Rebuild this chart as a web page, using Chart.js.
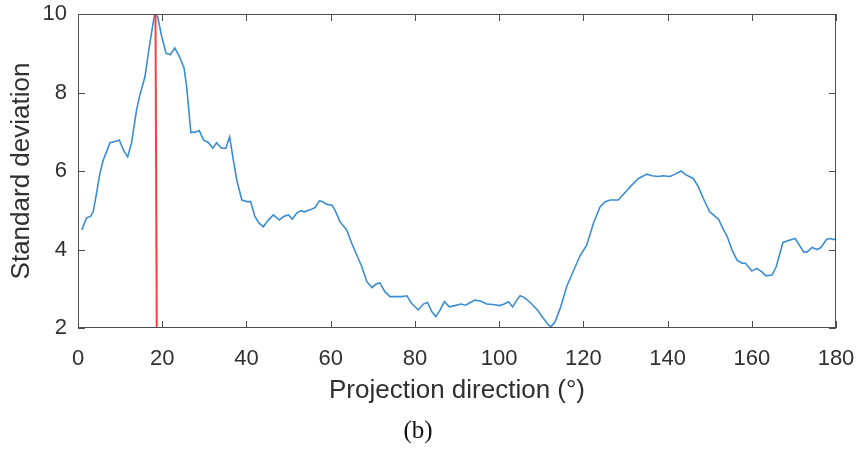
<!DOCTYPE html>
<html>
<head>
    <title>Standard deviation</title>
    <meta http-equiv="content-type" content="text/html;charset=UTF-8">
    <script src="https://cdn.jsdelivr.net/npm/chart.js"></script>
    <style>
        html, body {
            margin: 0;
            padding: 0;
            background: white;
        }

        .chart-box {
            width: 860px;
            height: 449px;
        }
    </style>
</head>
<body>
<div class="chart-box">
    <canvas id="sdChart" width="860" height="449"></canvas>
</div>
<script>
    // projection angle (degrees) and the standard deviation at that angle
    const angles = [
        0.9, 2.0, 3.0, 3.6, 4.4, 5.2, 6.0, 7.0, 7.6, 8.8, 9.8, 10.8, 11.8, 12.7, 13.9, 14.7, 15.9, 16.7, 17.7, 18.2,
        18.9, 19.9, 20.9, 21.9, 23.0, 24.1, 25.2, 25.8, 26.8, 27.8, 28.8, 29.8, 31.0, 32.0, 32.9, 34.1, 35.1, 36.0, 36.9, 37.7,
        38.9, 40.1, 41.0, 42.0, 43.0, 44.0, 45.2, 46.4, 47.8, 48.8, 50.0, 50.9, 51.9, 52.9, 53.8, 55.1, 56.3, 57.3, 58.0, 59.1,
        60.3, 61.0, 62.2, 63.8, 65.0, 66.2, 67.4, 68.6, 69.8, 70.8, 71.7, 72.9, 74.1, 75.7, 76.9, 78.1, 79.2, 80.8, 82.0, 83.0,
        84.0, 85.0, 86.0, 87.0, 88.2, 89.5, 90.9, 92.1, 93.1, 94.3, 95.5, 97.1, 98.6, 100.1, 101.2, 102.2, 103.2, 104.2, 105.0, 105.9,
        107.4, 109.1, 110.5, 111.7, 112.3, 113.3, 114.5, 116.1, 117.6, 119.2, 120.8, 122.4, 124.0, 125.2, 126.4, 128.3, 129.9, 131.5, 133.1, 135.1,
        136.3, 137.8, 139.0, 140.6, 141.8, 143.2, 144.4, 146.1, 147.3, 148.5, 150.0, 150.9, 152.1, 153.3, 154.1, 155.3, 156.5, 157.7, 158.5, 160.0,
        161.2, 162.4, 163.4, 164.8, 165.8, 167.4, 168.7, 170.3, 171.3, 172.3, 173.2, 174.3, 175.5, 176.4, 177.8, 178.8, 179.4, 180.0
    ];
    const stdDev = [
        4.50, 4.80, 4.85, 4.96, 5.43, 5.94, 6.28, 6.55, 6.72, 6.75, 6.79, 6.53, 6.36, 6.71, 7.55, 7.94, 8.40, 9.00, 9.68, 10.0,
        9.93, 9.42, 9.00, 8.96, 9.13, 8.91, 8.62, 8.15, 6.98, 6.99, 7.03, 6.79, 6.72, 6.58, 6.72, 6.58, 6.58, 6.87, 6.28, 5.77,
        5.26, 5.22, 5.22, 4.84, 4.67, 4.58, 4.75, 4.88, 4.75, 4.84, 4.88, 4.77, 4.92, 4.99, 4.96, 5.01, 5.07, 5.24, 5.22, 5.15,
        5.13, 5.01, 4.71, 4.50, 4.16, 3.86, 3.56, 3.18, 3.03, 3.12, 3.15, 2.92, 2.80, 2.80, 2.80, 2.82, 2.63, 2.46, 2.61, 2.65,
        2.42, 2.29, 2.46, 2.67, 2.54, 2.57, 2.61, 2.58, 2.65, 2.71, 2.69, 2.61, 2.60, 2.57, 2.61, 2.67, 2.54, 2.71, 2.82, 2.78,
        2.65, 2.46, 2.25, 2.08, 2.03, 2.16, 2.50, 3.07, 3.44, 3.84, 4.11, 4.67, 5.09, 5.22, 5.26, 5.26, 5.45, 5.64, 5.81, 5.92,
        5.88, 5.86, 5.88, 5.86, 5.92, 6.00, 5.90, 5.81, 5.60, 5.30, 4.96, 4.88, 4.77, 4.50, 4.35, 3.99, 3.73, 3.65, 3.65, 3.45,
        3.52, 3.43, 3.33, 3.35, 3.56, 4.18, 4.23, 4.28, 4.11, 3.94, 3.94, 4.05, 4.00, 4.05, 4.26, 4.28, 4.25, 4.28
    ];

    // red marker at the angle of maximum deviation
    const peakLineX = [18.4, 18.7];
    const peakLineY = [10, 2];

    const xTicks = [0, 20, 40, 60, 80, 100, 120, 140, 160, 180];
    const yTicks = [2, 4, 6, 8, 10];

    const axisColor = '#4d4d4d';
    const textColor = '#303030';

    // box around the plot plus inward tick marks on all four sides
    const boxTicks = {
        id: 'boxTicks',
        afterDraw(chart) {
            const ctx = chart.ctx;
            const area = chart.chartArea;
            const xs = chart.scales.x;
            const ys = chart.scales.y;
            const len = 7;
            ctx.save();
            ctx.strokeStyle = axisColor;
            ctx.lineWidth = 1;
            ctx.strokeRect(area.left + 0.5, area.top + 0.5, area.right - area.left - 1, area.bottom - area.top - 1);
            ctx.beginPath();
            xTicks.forEach(v => {
                const px = Math.round(xs.getPixelForValue(v)) + 0.5;
                ctx.moveTo(px, area.bottom);
                ctx.lineTo(px, area.bottom - len);
                ctx.moveTo(px, area.top);
                ctx.lineTo(px, area.top + len);
            });
            yTicks.forEach(v => {
                const py = Math.round(ys.getPixelForValue(v)) + 0.5;
                ctx.moveTo(area.left, py);
                ctx.lineTo(area.left + len, py);
                ctx.moveTo(area.right, py);
                ctx.lineTo(area.right - len, py);
            });
            ctx.stroke();
            ctx.restore();
        }
    };

    // keep the plot box fixed: drop the extra room Chart.js reserves for edge labels
    function noEdgePadding(scale) {
        scale.paddingTop = 0;
        scale.paddingBottom = 0;
        scale.paddingLeft = 0;
        scale.paddingRight = 0;
    }

    let ctx = document.getElementById('sdChart').getContext('2d');
    new Chart(ctx, {
        type: 'line',
        data: {
            datasets: [{
                data: peakLineX.map((x, i) => ({x: x, y: peakLineY[i]})),
                borderColor: '#ff3b3b',
                borderWidth: 2,
                pointRadius: 0,
                order: 0
            }, {
                data: angles.map((x, i) => ({x: x, y: stdDev[i]})),
                borderColor: '#3a8dd3',
                borderWidth: 1.6,
                pointRadius: 0,
                tension: 0,
                order: 1
            }]
        },
        options: {
            responsive: false,
            animation: false,
            layout: {
                padding: {left: 0, right: 24, top: 14, bottom: 0}
            },
            plugins: {
                legend: {display: false},
                tooltip: {enabled: false},
                title: {
                    display: true,
                    position: 'bottom',
                    text: '(b)',
                    color: '#111111',
                    font: {family: 'Liberation Serif', size: 25, weight: 'normal', lineHeight: 1.2},
                    padding: {top: 0, bottom: 3}
                }
            },
            scales: {
                x: {
                    type: 'linear',
                    min: 0,
                    max: 180,
                    afterBuildTicks: scale => {
                        scale.ticks = xTicks.map(v => ({value: v}));
                    },
                    afterFit: scale => {
                        scale.height = 88;
                        noEdgePadding(scale);
                    },
                    grid: {display: false, drawTicks: false},
                    border: {display: false},
                    ticks: {
                        color: textColor,
                        padding: 18,
                        maxRotation: 0,
                        font: {family: 'Liberation Sans', size: 22}
                    },
                    title: {
                        display: true,
                        text: 'Projection direction (°)',
                        color: textColor,
                        font: {family: 'Liberation Sans', size: 26},
                        padding: {top: 0, bottom: 10}
                    }
                },
                y: {
                    type: 'linear',
                    min: 2,
                    max: 10,
                    afterBuildTicks: scale => {
                        scale.ticks = yTicks.map(v => ({value: v}));
                    },
                    afterFit: scale => {
                        scale.width = 78;
                        noEdgePadding(scale);
                    },
                    grid: {display: false, drawTicks: false},
                    border: {display: false},
                    ticks: {
                        color: textColor,
                        padding: 11,
                        font: {family: 'Liberation Sans', size: 22}
                    },
                    title: {
                        display: true,
                        text: 'Standard deviation',
                        color: textColor,
                        font: {family: 'Liberation Sans', size: 26},
                        padding: {top: 6, bottom: 0}
                    }
                }
            }
        },
        plugins: [boxTicks]
    });
</script>
</body>
</html>
